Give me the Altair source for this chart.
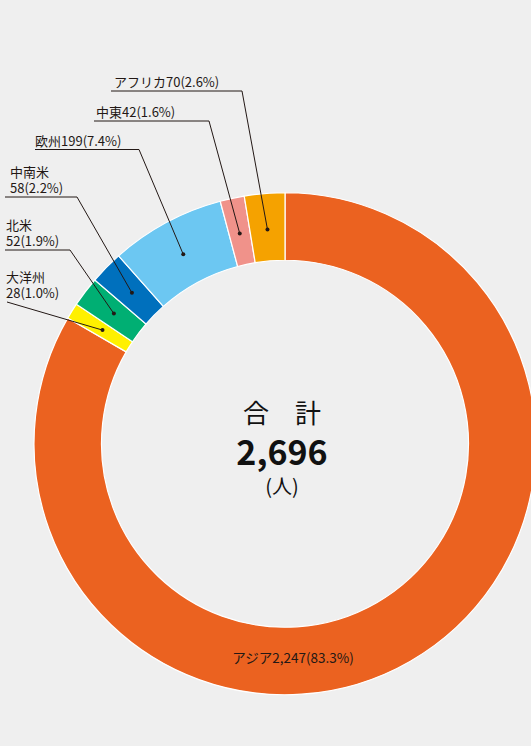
import altair as alt
import numpy as np
import pandas as pd

# ---- data ----
regions = ["アジア", "大洋州", "北米", "中南米", "欧州", "中東", "アフリカ"]
counts = [2247, 28, 52, 58, 199, 42, 70]
shares = ["83.3%", "1.0%", "1.9%", "2.2%", "7.4%", "1.6%", "2.6%"]
colors = ["#EB6220", "#FFF000", "#00AF73", "#0070BD", "#6CC7F2", "#F0928A", "#F5A200"]
center_lines = ["合　計", "2,696", "(人)"]

# ---- layout ----
W, H = 531, 746
CX, CY = 285, 443.75
R_OUT, R_IN = 251, 183.5
R_DOT = 215
FONT = "Noto Sans CJK JP"
INK = "#231815"

# label layout: text x, first-line baseline y, underline (x0, x1, y) or line start
label_layout = {
    "アフリカ": dict(two=False, x=114, y=87, under=(111, 242, 91)),
    "中東": dict(two=False, x=96, y=117, under=(94, 209, 121)),
    "欧州": dict(two=False, x=35, y=146, under=(35, 139, 149.5)),
    "中南米": dict(two=True, x=10, y=177, under=(5, 77, 197)),
    "北米": dict(two=True, x=6, y=230, under=(5, 70, 250)),
    "大洋州": dict(two=True, x=6, y=282, under=(7, 7, 302)),
}

df = pd.DataFrame({"region": regions, "count": counts, "share": shares,
                   "order": list(range(len(regions)))})
total = df["count"].sum()
mid = df["count"].cumsum() - df["count"] / 2
ang = 2 * np.pi * mid / total
df["dx"] = CX + R_DOT * np.sin(ang)
df["dy"] = CY - R_DOT * np.cos(ang)

text_rows, line_rows = [], []
for _, r in df.iterrows():
    name = r["region"]
    if name not in label_layout:
        continue
    lay = label_layout[name]
    sep = "\n" if lay["two"] else ""
    text_rows.append({"t": f"{name}{sep}{r['count']}({r['share']})",
                      "x": lay["x"], "y": lay["y"]})
    x0, x1, uy = lay["under"]
    pts = [(x0, uy), (x1, uy)] if x0 != x1 else [(x0, uy)]
    pts.append((r["dx"], r["dy"]))
    for i, (px, py) in enumerate(pts):
        line_rows.append({"region": name, "i": i, "x": px, "y": py})

asia = df.iloc[0]
asia_label = pd.DataFrame([{"t": f"{asia['region']}{asia['count']:,}({asia['share']})",
                            "x": 293, "y": 663}])
center_df = pd.DataFrame({"t": center_lines, "x": [282, 282, 282],
                          "y": [423, 465, 494], "size": [26, 34, 20],
                          "w": ["normal", "bold", "normal"]})

X = lambda f: alt.X(f, scale=None, axis=None)
Y = lambda f: alt.Y(f, scale=None, axis=None)

arcs = alt.Chart(df).mark_arc(radius=R_OUT, radius2=R_IN, stroke="white",
                              strokeWidth=1.2).encode(
    theta=alt.Theta("count:Q", stack=True),
    order=alt.Order("order:Q", sort="ascending"),
    color=alt.Color("region:N", scale=alt.Scale(domain=regions, range=colors), legend=None),
    x=alt.value(CX), y=alt.value(CY),
)

leaders = alt.Chart(pd.DataFrame(line_rows)).mark_line(color=INK, strokeWidth=1).encode(
    x=X("x:Q"), y=Y("y:Q"), detail="region:N", order="i:Q")

dots = alt.Chart(df.iloc[1:]).mark_point(filled=True, color=INK, size=16, opacity=1).encode(
    x=X("dx:Q"), y=Y("dy:Q"))

labels = alt.Chart(pd.DataFrame(text_rows)).mark_text(
    align="left", baseline="alphabetic", font=FONT, fontSize=13, color=INK,
    lineBreak="\n", lineHeight=16).encode(
    x=X("x:Q"), y=Y("y:Q"), text="t:N")

asia_txt = alt.Chart(asia_label).mark_text(
    align="center", baseline="alphabetic", font=FONT, fontSize=13.5, color=INK).encode(
    x=X("x:Q"), y=Y("y:Q"), text="t:N")

center_parts = []
for k, r in center_df.iterrows():
    center_parts.append(alt.Chart(center_df.iloc[[k]]).mark_text(
        align="center", baseline="alphabetic", font=FONT, fontSize=r["size"],
        fontWeight=r["w"], color="#111111").encode(x=X("x:Q"), y=Y("y:Q"), text="t:N"))

chart = alt.layer(arcs, leaders, dots, labels, asia_txt, *center_parts).properties(
    width=W, height=H, padding=0, autosize="none", background="#efefef"
).configure_view(stroke=None)

chart.save("out.html", embed_options={"renderer": "svg", "actions": False})
